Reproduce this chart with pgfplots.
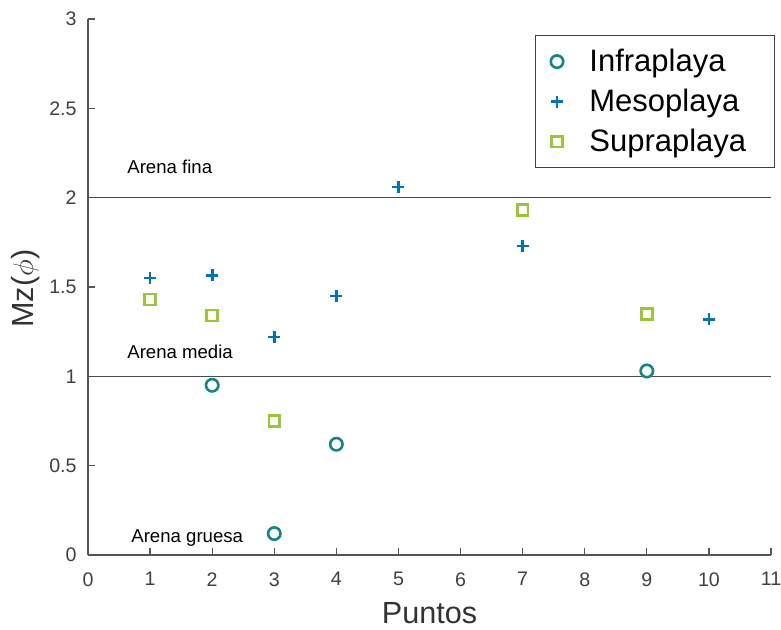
\documentclass[border=0pt]{standalone}
\usepackage{pgfplots}
\pgfplotsset{compat=1.18}
\usepackage{fontspec}
\setmainfont{Liberation Sans}
\definecolor{infra}{RGB}{20,135,130}
\definecolor{meso}{RGB}{0,114,189}
\definecolor{supra}{RGB}{155,200,50}
\definecolor{axgray}{RGB}{85,85,85}
\pgfplotsset{
  lgimg/.style={legend image code/.code={%
    \path (-2pt,0pt) (17pt,0pt);
    \draw[mark repeat=2, mark phase=2, ##1] plot coordinates {(0pt,0pt) (8pt,0pt) (16pt,0pt)};}},
}
\begin{document}
\begin{tikzpicture}
\begin{axis}[
    scale only axis,
    width=341.5pt, height=268pt,
    xmin=0, xmax=11, ymin=0, ymax=3,
    xtick={0,1,...,11},
    ytick={0,0.5,...,3},
    axis x line*=bottom,
    axis y line*=left,
    axis line style={axgray, line width=0.6pt, -},
    tick style={axgray, line width=0.6pt},
    tick align=inside,
    major tick length=3.5pt,
    ticklabel style={font=\fontsize{9.8}{11}\selectfont, text=black!75},
    xticklabel style={yshift=-5.2pt},
    yticklabel style={xshift=-2.2pt},
    /pgf/number format/assume math mode=true,
    xlabel={Puntos},
    ylabel={Mz($\phi$)},
    label style={font=\fontsize{15.3}{18}\selectfont, text=black!80},
    xlabel style={at={(axis description cs:0.5,0)}, anchor=base, yshift=-34pt},
    ylabel style={at={(axis description cs:-0.0805,0.497)}, anchor=base, rotate=0},
    legend style={at={(axis description cs:1.00586,0.97015)}, anchor=north east,
        draw=black!75, line width=0.6pt, font=\fontsize{15.5}{18}\selectfont,
        inner xsep=0pt, inner ysep=3pt, row sep=0pt, column sep=4.5pt,
        nodes={inner sep=2pt, minimum height=20pt},
        /tikz/every even column/.append style={text width=90.5pt, align=left}},
    legend cell align=left,
    clip=false,
]
\addplot[black!70, line width=0.6pt, forget plot] coordinates {(0,2) (11,2)};
\addplot[black!70, line width=0.6pt, forget plot] coordinates {(0,1) (11,1)};

\addplot[only marks, lgimg, mark=o, mark size=3.1pt, infra, line width=1.3pt] coordinates {
    (2,0.95) (3,0.12) (4,0.62) (9,1.03)
};
\addlegendentry{Infraplaya}
\addplot[only marks, lgimg, mark=+, mark size=3pt, meso, line width=1.4pt] coordinates {
    (1,1.55) (2,1.565) (3,1.22) (4,1.45) (5,2.06) (7,1.73) (10,1.32)
};
\addlegendentry{Mesoplaya}
\addplot[only marks, lgimg, mark=square, mark size=2.7pt, supra, line width=1.3pt] coordinates {
    (1,1.43) (2,1.34) (3,0.75) (7,1.93) (9,1.35)
};
\addlegendentry{Supraplaya}

\node[anchor=west, font=\fontsize{9.3}{11}\selectfont] at (axis cs:0.52,2.17) {Arena fina};
\node[anchor=west, font=\fontsize{9.3}{11}\selectfont] at (axis cs:0.52,1.136) {Arena media};
\node[anchor=west, font=\fontsize{9.3}{11}\selectfont] at (axis cs:0.585,0.095) {Arena gruesa};
\end{axis}
\pgfresetboundingbox
\useasboundingbox (-44pt,-37pt) rectangle (346.5pt,277.5pt);
\end{tikzpicture}
\end{document}
